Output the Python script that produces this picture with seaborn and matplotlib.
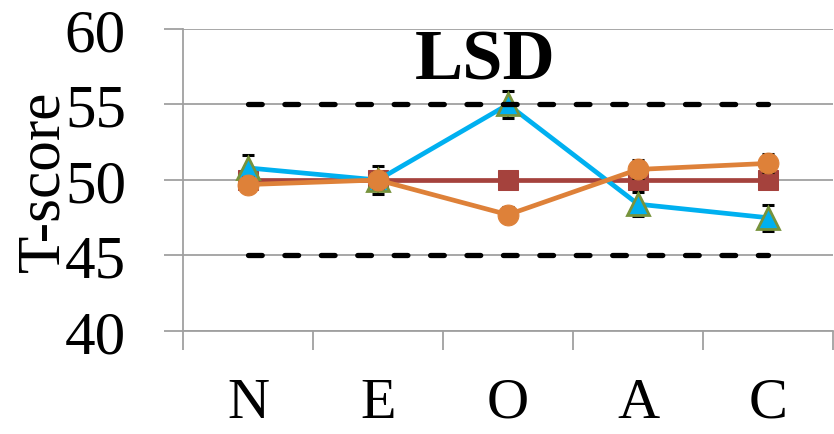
import matplotlib
matplotlib.use("Agg")
import matplotlib.pyplot as plt
import seaborn as sns

# Big Five traits and mean T-scores
traits = ['N', 'E', 'O', 'A', 'C']
norm_scores = [50, 50, 50, 50, 50]
lsd_scores = [50.8, 50.0, 55.0, 48.4, 47.5]
lsd_err = [0.85, 0.9, 0.9, 0.8, 0.85]
placebo_scores = [49.7, 50.0, 47.7, 50.7, 51.1]
placebo_err = [0.5, 0.5, 0.5, 0.6, 0.6]
bounds = [45, 55]
y_ticks = [40, 45, 50, 55, 60]

RED = '#A5423D'
BLUE = '#00B0F0'
OLIVE = '#77933C'
ORANGE = '#DE8139'
GREY = '#A0A0A0'


def main():
    sns.set_theme(style='white')
    plt.rcParams['font.family'] = ['Liberation Serif', 'DejaVu Serif']
    plt.rcParams['text.color'] = 'black'
    plt.rcParams['axes.labelcolor'] = 'black'

    fig = plt.figure(figsize=(8.34, 4.35), dpi=100)
    ax = fig.add_axes([183 / 834, 103 / 435, 650 / 834, 302 / 435])

    sns.lineplot(x=traits, y=norm_scores, ax=ax, color=RED, lw=3.4,
                 marker='s', ms=15, mec=RED, zorder=2)

    ax.errorbar(traits, lsd_scores, yerr=lsd_err, fmt='none', ecolor='black',
                elinewidth=1.2, capsize=4.5, capthick=2.2, zorder=2.5)
    sns.lineplot(x=traits, y=lsd_scores, ax=ax, color=BLUE, lw=3.4,
                 marker='^', ms=16, mfc=BLUE, mec=OLIVE, mew=2, zorder=3)

    ax.errorbar(traits, placebo_scores, yerr=placebo_err, fmt='none', ecolor='black',
                elinewidth=1.2, capsize=4.5, capthick=2.2, zorder=3.5)
    sns.lineplot(x=traits, y=placebo_scores, ax=ax, color=ORANGE, lw=3.4,
                 marker='o', ms=15, mec=ORANGE, zorder=4)

    # +/- 1 SD reference band drawn as thick dashed lines
    for b in bounds:
        sns.lineplot(x=traits, y=[b] * len(traits), ax=ax, color='black', lw=3.8, zorder=5)
        line = ax.lines[-1]
        line.set_dashes((2.6, 4.3))
        line.set_dash_capstyle('round')

    ax.set_xlim(-0.5, len(traits) - 0.5)
    ax.set_ylim(40, 60)
    ax.set_yticks(y_ticks)
    ax.set_xticks(range(len(traits)))
    ax.set_xticklabels(traits)
    ax.set_xticks([i - 0.5 for i in range(len(traits) + 1)], minor=True)

    ax.grid(axis='y', color=GREY, lw=1.3)
    ax.set_axisbelow(True)
    for side in ['top', 'right']:
        ax.spines[side].set_visible(False)
    for side in ['left', 'bottom']:
        ax.spines[side].set_color(GREY)
        ax.spines[side].set_linewidth(1.3)

    ax.tick_params(axis='y', which='major', direction='out', length=14, width=1.3,
                   color=GREY, pad=27, labelsize=44, labelcolor='black', left=True)
    ax.tick_params(axis='x', which='major', length=0, pad=33, labelsize=42,
                   labelcolor='black')
    ax.tick_params(axis='x', which='minor', direction='out', length=14, width=1.3,
                   color=GREY, bottom=True)

    ax.set_xlabel('')
    ax.set_ylabel('T-score', fontsize=44)
    ax.yaxis.set_label_coords(-0.215, 0.5)
    ax.yaxis.label.set_verticalalignment('center')

    ax.text(0.465, 0.895, 'LSD', transform=ax.transAxes, ha='center', va='center',
            fontsize=52, fontweight='bold', zorder=6)

    fig.savefig('out.png', dpi=100)
    plt.close(fig)


if __name__ == '__main__':
    main()
